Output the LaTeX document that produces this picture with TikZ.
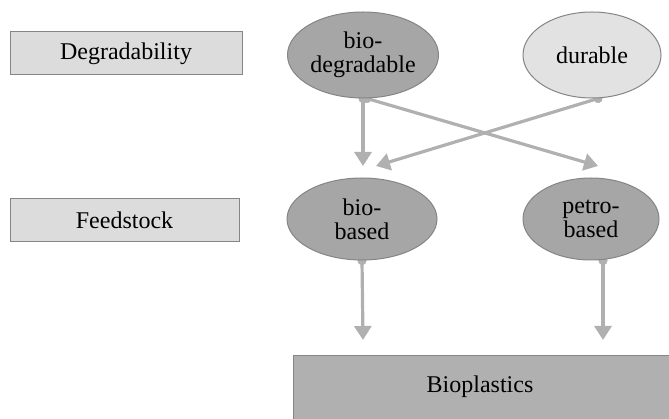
\documentclass[tikz,border=0pt]{standalone}
\usepackage{fontspec}
\setmainfont{Liberation Serif}
\usetikzlibrary{shapes.geometric,arrows.meta,backgrounds}
\definecolor{boxlight}{HTML}{DCDCDC}
\definecolor{ovaldark}{HTML}{A6A6A6}
\definecolor{ovallight}{HTML}{E2E2E2}
\definecolor{arrowgray}{HTML}{B0B0B0}
\definecolor{edgegray}{HTML}{858585}
\tikzset{
  levelbox/.style={draw=edgegray,fill=boxlight,line width=1pt,minimum width=230pt,minimum height=43pt,inner sep=0pt},
  oval/.style={ellipse,draw=edgegray,line width=1pt,inner sep=0pt,align=center,fill=ovaldark},
  flow/.style={draw=arrowgray,line width=3.2pt,{Circle[length=9pt]}-{Triangle[length=14pt,width=17pt]},shorten <=-4.5pt}
}
\begin{document}
\begin{tikzpicture}[x=1pt,y=-1pt,font=\fontsize{24}{24}\selectfont]
\useasboundingbox (0,0) rectangle (669,419);
%% row labels
\node[levelbox,minimum width=232pt] (degr) at (126,53.5) {Degradability};
\node[levelbox,minimum width=229pt] (feed) at (124.5,220.5) {Feedstock};
%% ovals
\node[oval,minimum width=151pt,minimum height=86pt] (biodeg) at (363,55) {bio-\\degradable};
\node[oval,fill=ovallight,minimum width=138pt,minimum height=86pt] (durable) at (592,55) {durable};
\node[oval,minimum width=150pt,minimum height=82pt] (biobased) at (362,219) {bio-\\based};
\node[oval,minimum width=136pt,minimum height=82pt] (petro) at (591,219) {petro-\\based};
%% product
\node[draw=edgegray,fill=arrowgray,line width=1pt,minimum width=380pt,minimum height=68pt,inner sep=0pt,
      anchor=north west] (bioplast) at (293,355) {};
\node at (480,387) {Bioplastics};
%% connectors
\coordinate (t1) at (363,166);
\coordinate (t2) at (598,166);
\coordinate (t3) at (376,166);
\coordinate (b1) at (363,340);
\coordinate (b2) at (603,340);
\begin{scope}[on background layer]
\draw[flow] (biodeg.south) -- (t1);
\draw[flow] ([xshift=4pt]biodeg.south) -- (t2);
\draw[flow] ([xshift=6pt]durable.south) -- (t3);
\draw[flow] (biobased.south) -- (b1);
\draw[flow] (petro.south -| b2) -- (b2);
\end{scope}
\end{tikzpicture}
\end{document}
